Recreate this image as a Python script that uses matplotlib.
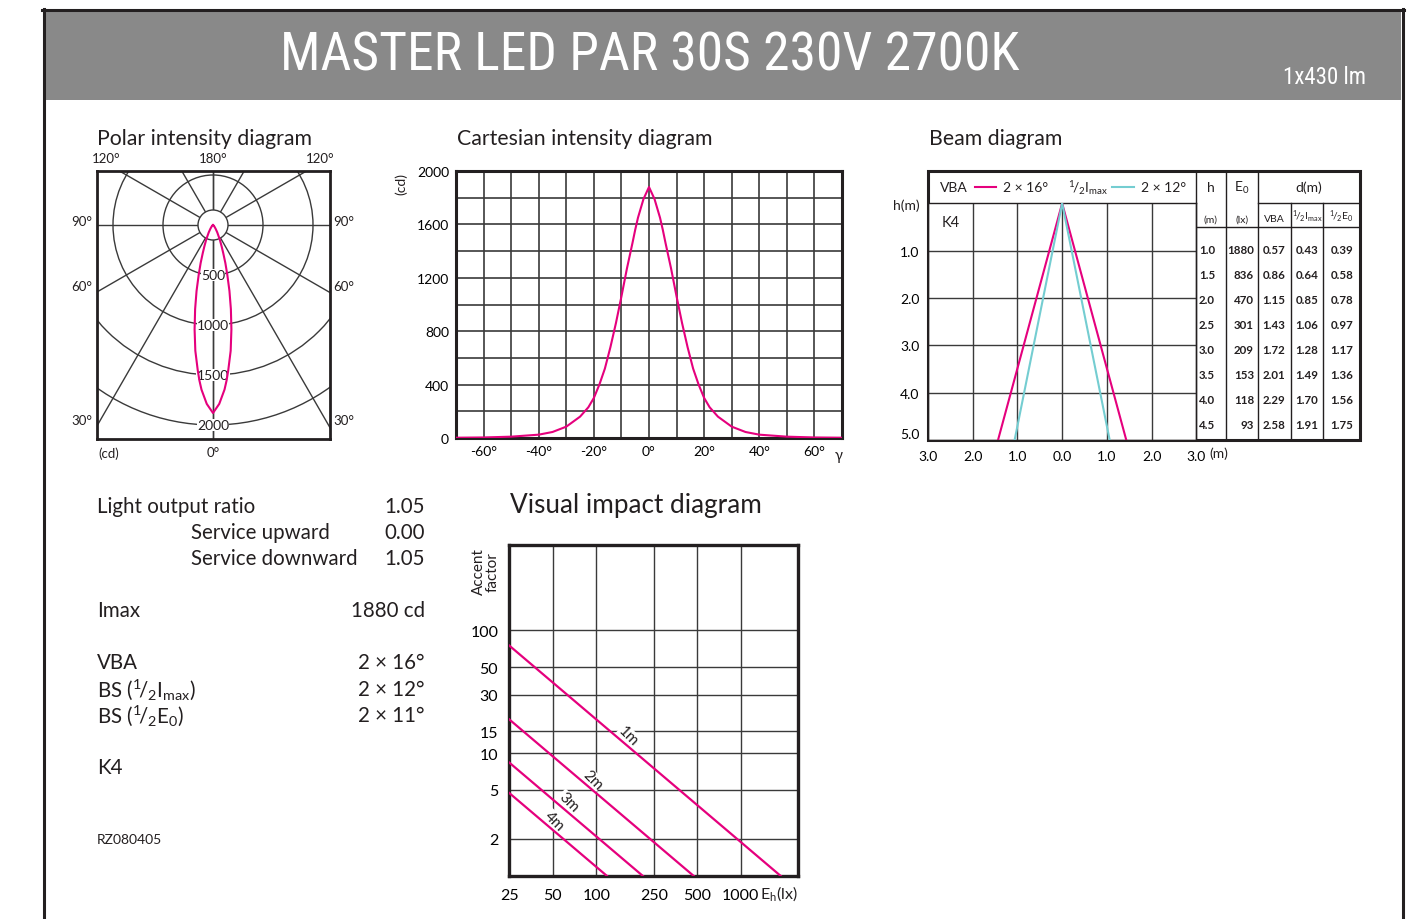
import numpy as np
import matplotlib
matplotlib.use("Agg")
import matplotlib.pyplot as plt
from matplotlib import font_manager as fm
from matplotlib.patches import Rectangle, Circle
from matplotlib.ticker import NullLocator

W, H = 1416, 920

# --- data -------------------------------------------------------------
gamma = [0, 2, 4, 5, 6, 8, 10, 12, 14, 16, 18, 20, 22, 25, 30, 35, 40, 50, 60, 70, 80, 90]
intensity = [1880, 1790, 1650, 1560, 1460, 1270, 1060, 860, 680, 520, 400, 300, 230,
             160, 85, 45, 25, 10, 4, 2, 1, 0]
polar_rings = [500, 1000, 1500, 2000]
polar_spokes = [0, 30, 60, 90, 120, 150, 180]

vba_half = 16
bs_half = 12
beam_depth = 5.0
beam_h = [1.0, 1.5, 2.0, 2.5, 3.0, 3.5, 4.0, 4.5]
beam_e0 = [1880, 836, 470, 301, 209, 153, 118, 93]
d_vba = [0.57, 0.86, 1.15, 1.43, 1.72, 2.01, 2.29, 2.58]
d_imax = [0.43, 0.64, 0.85, 1.06, 1.28, 1.49, 1.70, 1.91]
d_e0 = [0.39, 0.58, 0.78, 0.97, 1.17, 1.36, 1.56, 1.75]

vi_heights = [1, 2, 3, 4]
vi_e0 = [1880, 470, 209, 118]
vi_label_e = [167, 94, 64, 51]
vi_xticks = [25, 50, 100, 250, 500, 1000]
vi_yticks = [2, 5, 10, 15, 30, 50, 100]

info_rows = [("Light output ratio", "1.05", 97), ("Service upward", "0.00", 191),
             ("Service downward", "1.05", 191)]

MAGENTA = "#e5007d"
CYAN = "#74cdd1"
GRID = "#3a3a3a"
INK = "#231f20"

names = {f.name for f in fm.fontManager.ttflist}
narrow = next((n for n in ["Liberation Sans Narrow", "DejaVu Sans Condensed",
                           "Roboto Condensed", "Open Sans Condensed"] if n in names),
              "Roboto")
plt.rcParams["font.family"] = ["Lato", "DejaVu Sans"]
plt.rcParams["mathtext.fontset"] = "custom"
plt.rcParams["mathtext.rm"] = "Lato"
plt.rcParams["mathtext.it"] = "Lato:italic"
plt.rcParams["mathtext.bf"] = "Lato:bold"
plt.rcParams["text.color"] = INK

fig = plt.figure(figsize=(W / 100, H / 100), dpi=100)
fig.patch.set_facecolor("white")


def px_axes(l, t, r, b):
    return fig.add_axes([l / W, 1 - b / H, (r - l) / W, (b - t) / H])


bg = fig.add_axes([0, 0, 1, 1], zorder=-5)
bg.set_xlim(0, W)
bg.set_ylim(H, 0)
bg.axis("off")

# header + frame
bg.add_patch(Rectangle((45, 12), 1356, 89, color="#898989", lw=0))
bg.plot([43.5, 43.5], [10, H], color=INK, lw=2.2)
bg.plot([42, 1404], [10.5, 10.5], color=INK, lw=2.2)
bg.plot([1402.5, 1402.5], [10, H], color=INK, lw=2.2)
bg.text(650, 56, "MASTER LED PAR 30S 230V 2700K", color="white", fontsize=38.5,
        family=narrow, ha="center", va="center")
bg.text(1366, 77, "1x430 lm", color="white", fontsize=16.5, family=narrow,
        ha="right", va="center")

# section titles
bg.text(97, 139, "Polar intensity diagram", fontsize=15.3, va="center")
bg.text(457, 139, "Cartesian intensity diagram", fontsize=15.3, va="center")
bg.text(929, 139, "Beam diagram", fontsize=15.3, va="center")
bg.text(510, 506, "Visual impact diagram", fontsize=18.8, va="center")

# --- polar --------------------------------------------------------------
axp = px_axes(97, 172, 330, 440)
axp.set_xlim(-1160, 1170)
axp.set_ylim(-2140, 540)
axp.set_xticks([])
axp.set_yticks([])
for s in axp.spines.values():
    s.set_linewidth(2)
    s.set_color(INK)
for r in polar_rings:
    axp.add_patch(Circle((0, 0), r, fill=False, ec=GRID, lw=1))
for a in polar_spokes:
    for sgn in (1, -1):
        ar = np.radians(a)
        dx, dy = sgn * np.sin(ar), -np.cos(ar)
        axp.plot([150 * dx, 4000 * dx], [150 * dy, 4000 * dy], color=GRID, lw=1)
axp.add_patch(Circle((0, 0), 150, fc="white", ec=GRID, lw=1, zorder=3))
g_full = np.r_[-np.array(gamma[::-1]), np.array(gamma[1:])]
i_full = np.r_[np.array(intensity[::-1]), np.array(intensity[1:])]
gr = np.radians(g_full)
axp.plot(i_full * np.sin(gr), -i_full * np.cos(gr), color=MAGENTA, lw=1.5, zorder=4)
for r in polar_rings:
    axp.text(0, -r, str(r), ha="center", va="center", fontsize=10, zorder=3.5,
             bbox=dict(fc="white", ec="none", pad=0.3))
for x, y, s in [(106, 159, "120°"), (213, 159, "180°"), (320, 159, "120°"),
                (82, 222, "90°"), (344, 222, "90°"), (82, 287, "60°"), (344, 287, "60°"),
                (82, 421, "30°"), (344, 421, "30°"), (109, 454, "(cd)"), (213, 453, "0°")]:
    bg.text(x, y, s, ha="center", va="center", fontsize=9.5)
bg.text(271, 388, "γ", ha="center", va="center", fontsize=10.5)
bg.annotate("", xy=(295, 383), xytext=(278, 391),
            arrowprops=dict(arrowstyle="-|>", color=INK, lw=1, mutation_scale=8))

# --- cartesian ----------------------------------------------------------
axc = px_axes(456, 172, 842, 439)
axc.plot(g_full, i_full, color=MAGENTA, lw=1.5, zorder=3)
axc.set_xlim(-70, 70)
axc.set_ylim(0, 2000)
xt = np.arange(-70, 71, 10)
axc.set_xticks(xt)
axc.set_xticklabels([f"{v}°" if v % 20 == 0 else "" for v in xt])
yt = np.arange(0, 2001, 200)
axc.set_yticks(yt)
axc.set_yticklabels([str(v) if v % 400 == 0 else "" for v in yt])
axc.tick_params(length=0, labelsize=10, pad=5)
axc.grid(True, color=GRID, lw=1.2)
for s in axc.spines.values():
    s.set_linewidth(2.2)
    s.set_color(INK)
bg.text(401, 184, "(cd)", rotation=90, ha="center", va="center", fontsize=10)
bg.text(839, 456, "γ", ha="center", va="center", fontsize=10.5)

# --- beam diagram -------------------------------------------------------
axb = px_axes(928, 204.3, 1196.3, 441)
axb.set_xlim(-3, 3)
axb.set_ylim(5, 0)
for half, col in [(vba_half, MAGENTA), (bs_half, CYAN)]:
    w = beam_depth * np.tan(np.radians(half))
    axb.plot([-w, 0, w], [beam_depth, 0, beam_depth], color=col, lw=1.5, zorder=3)
axb.set_xticks(range(-3, 4))
axb.set_xticklabels([f"{abs(v):.1f}" for v in range(-3, 4)])
axb.set_yticks([1, 2, 3, 4, 5])
axb.set_yticklabels([f"{v:.1f}" for v in [1, 2, 3, 4, 5]])
axb.yaxis.get_ticklabels()[-1].set_va("bottom")
axb.tick_params(length=0, labelsize=10)
axb.tick_params(axis="y", pad=6)
axb.tick_params(axis="x", pad=7)
axb.grid(True, color=GRID, lw=1)
for s in axb.spines.values():
    s.set_linewidth(1)
    s.set_color(INK)
axb.text(0.05, 0.92, "K4", transform=axb.transAxes, fontsize=10.5, va="center")
bg.text(1209, 454, "(m)", fontsize=10, va="center")
bg.text(906, 206, "h(m)", fontsize=10, ha="center", va="center")

bg.add_patch(Rectangle((928, 172), 432, 269, fill=False, ec=INK, lw=2.2))
for x, y0 in [(1196.3, 172), (1225.7, 172), (1258.3, 172), (1290.7, 204.3), (1323.3, 204.3)]:
    bg.plot([x, x], [y0, 441], color=INK, lw=1)
bg.plot([1258.3, 1360], [204.3, 204.3], color=INK, lw=1)
bg.plot([1196.3, 1360], [228.3, 228.3], color=INK, lw=1)

bg.text(940, 188, "VBA", fontsize=10, va="center")
bg.plot([975, 996], [188, 188], color=MAGENTA, lw=1.5)
bg.text(1003, 188, f"2 × {vba_half}°", fontsize=10, va="center")
bg.text(1068, 188, r"${}^{1}\!/_{2}$I$_{\mathrm{max}}$", fontsize=10, va="center")
bg.plot([1112, 1134], [188, 188], color=CYAN, lw=1.5)
bg.text(1141, 188, f"2 × {bs_half}°", fontsize=10, va="center")

bg.text(1211, 188, "h", fontsize=10, ha="center", va="center")
bg.text(1242, 188, r"E$_0$", fontsize=10, ha="center", va="center")
bg.text(1309, 188, "d(m)", fontsize=10, ha="center", va="center")
bg.text(1211, 220, "(m)", fontsize=7.5, ha="center", va="center")
bg.text(1242, 220, "(lx)", fontsize=7.5, ha="center", va="center")
bg.text(1274, 219, "VBA", fontsize=7.5, ha="center", va="center")
bg.text(1307, 217, r"${}^{1}\!/_{2}$I$_{\mathrm{max}}$", fontsize=7.5, ha="center", va="center")
bg.text(1341, 217, r"${}^{1}\!/_{2}$E$_0$", fontsize=7.5, ha="center", va="center")
for i in range(len(beam_h)):
    y = 250.7 + 25 * i
    kw = dict(fontsize=8.3, va="center", weight="bold")
    bg.text(1199, y, f"{beam_h[i]:.1f}", ha="left", **kw)
    bg.text(1254, y, f"{beam_e0[i]}", ha="right", **kw)
    bg.text(1274, y, f"{d_vba[i]:.2f}", ha="center", **kw)
    bg.text(1307, y, f"{d_imax[i]:.2f}", ha="center", **kw)
    bg.text(1342, y, f"{d_e0[i]:.2f}", ha="center", **kw)

# --- visual impact ------------------------------------------------------
axv = px_axes(509.3, 545.7, 798.3, 876.7)
axv.set_xscale("log")
axv.set_yscale("log")
e_span = np.array([25.0, 2500.0])
for h, e0, le in zip(vi_heights, vi_e0, vi_label_e):
    axv.plot(e_span, e0 / e_span, color=MAGENTA, lw=1.6, zorder=4)
    axv.text(le, e0 / le * 1.22, f"{h}m", rotation=-45, ha="center", va="center",
             fontsize=11, zorder=3, rotation_mode="anchor",
             bbox=dict(fc="white", ec="none", pad=0.5))
axv.set_xlim(25, 2500)
axv.set_ylim(1, 500)
axv.set_xticks(vi_xticks)
axv.set_xticklabels([str(v) for v in vi_xticks])
axv.set_yticks(vi_yticks)
axv.set_yticklabels([str(v) for v in vi_yticks])
axv.xaxis.set_minor_locator(NullLocator())
axv.yaxis.set_minor_locator(NullLocator())
axv.tick_params(length=0, labelsize=11.5)
axv.tick_params(axis="x", pad=9)
axv.tick_params(axis="y", pad=8)
axv.grid(True, color=GRID, lw=1)
for s in axv.spines.values():
    s.set_linewidth(2.4)
    s.set_color(INK)
bg.text(760, 894, r"E$_\mathrm{h}$(lx)", fontsize=11.5, va="center")
bg.text(486, 572, "Accent\nfactor", rotation=90, ha="center", va="center",
        fontsize=11, linespacing=0.95)

# --- left text block ----------------------------------------------------
fs = 14.8
for k, (lab, val, x) in enumerate(info_rows):
    y = 507 + 26 * k
    bg.text(x, y, lab, fontsize=fs, va="center")
    bg.text(425, y, val, fontsize=fs, va="center", ha="right")
bg.text(97, 611, "Imax", fontsize=fs, va="center")
bg.text(425, 611, "1880 cd", fontsize=fs, va="center", ha="right")
bg.text(97, 663, "VBA", fontsize=fs, va="center")
bg.text(425, 663, f"2 × {vba_half}°", fontsize=fs, va="center", ha="right")
bg.text(97, 690, r"BS (${}^{1}\!/_{2}$I$_{\mathrm{max}}$)", fontsize=fs, va="center")
bg.text(425, 690, f"2 × {bs_half}°", fontsize=fs, va="center", ha="right")
bg.text(97, 716, r"BS (${}^{1}\!/_{2}$E$_0$)", fontsize=fs, va="center")
bg.text(425, 716, "2 × 11°", fontsize=fs, va="center", ha="right")
bg.text(97, 768, "K4", fontsize=fs, va="center")
bg.text(97, 840, "RZ080405", fontsize=10, va="center")

fig.savefig("out.png", dpi=100, facecolor="white")
